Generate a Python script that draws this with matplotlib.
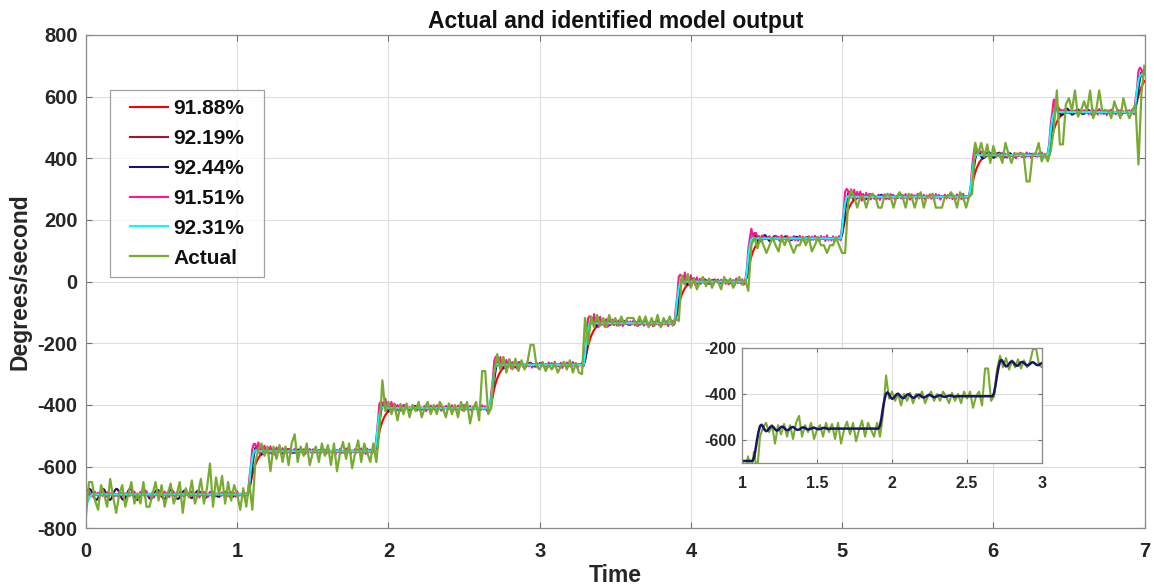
import numpy as np
import matplotlib
matplotlib.use("Agg")
import matplotlib.pyplot as plt
from matplotlib.legend_handler import HandlerLine2D

plt.rcParams['font.family'] = ['Liberation Sans', 'DejaVu Sans']
plt.rcParams['font.weight'] = 'bold'
plt.rcParams['axes.unicode_minus'] = False

# ---------------- data ----------------
dt_actual = 0.02
# measured (Actual) output: per-segment level and sample deviations
actual_levels = [-690, -555, -410, -275, -118, 0, 118, 275, 415, 555]
actual_dev = [
    [-70, 40, 40, -20, -50, 30, 0, -40, 50, -10,
     -60, 0, 30, -40, 0, 40, -30, 0, -30, 40,
     -40, -40, 0, 40, -20, 30, -40, 0, 35, -30,
     0, 40, -60, 20, -10, 45, -30, 0, 50, -30,
     20, 100, -40, 55, 0, 60, -30, 40, -20, 30,
     0, -50, 20, -40, 40, -50],
    [-30, 10, 30, -10, 20, -60, 20, -20, 25, -30,
     20, -40, 30, 60, -30, 20, -10, 30, -40, 0,
     20, -30, 30, -10, 25, -40, 30, -60, 0, 35,
     -20, 30, -50, 0, 40, -30, 30, 0, -30, 30,
     -30, 70],
    [90, -10, 20, -20, 10, -40, 10, -20, 15, -30,
     10, -10, 20, -30, 0, 20, -20, 10, -20, 20,
     0, -30, 15, -20, 10, -30, 20, -10, 20, -50,
     0, 20, -40, 120, 120, -20, 0],
    [-20, 40, -10, 30, -20, 20, -10, 25, -15, 20,
     -10, 15, 70, 70, 0, -10, 10, -15, 5, -10,
     10, -20, 0, 15, -10, 20, -20, 10, -20, -25],
    [0, -85, 5, -30, 10, -25, 0, -30, 10, -20,
     0, -25, 5, -20, 0, 0, 0, -25, 5, -20,
     5, -30, 0, -25, 10, -30, 0, -20, 5, -25,
     0, -10],
    [20, -10, 25, -20, 10, -25, 0, 15, -15, 10,
     -20, 5, 0, -25, 15, -5, 10, -20, 0, 15,
     -10, 5, -30],
    [0, 25, -10, 25, 0, -25, 0, 25, 0, -20,
     25, 0, 25, 0, -25, 0, 0, 25, 0, 25,
     -20, 0, 25, 0, 0, -25, 0, 0, 25, 0,
     -25, -25],
    [-20, 20, 0, -35, 0, 0, -35, 0, 10, 0,
     -35, -35, 0, 10, 0, -35, 0, 15, 0, -35,
     10, 0, -35, 0, 15, -35, 0, 0, 10, -35,
     -35, -35, 0, 0, 15, 0, -35, 15, 0, -35,
     0, 10],
    [35, 0, 35, -10, 30, -30, 25, -10, 0, -30,
     35, 0, -30, 0, 0, 0, 0, -90, -90, 0,
     0, 35, -25, 0, -25, 10],
    [-60, 65, -110, -110, 20, 40, 0, 65, -20, 0,
     30, 0, 65, -25, 0, 65, 0, 0, 0, -25,
     30, 0, -25, 40, 0, -25, 0, 20, -175, 60,
     145],
]

# identified model outputs: commanded staircase + each model's step response
dt_model = 0.01
model_levels = [-690, -550, -410, -270, -135, 0, 140, 275, 410, 550, 670]
model_step_times = [1.08, 1.92, 2.68, 3.30, 3.90, 4.37, 5.00, 5.85, 6.37, 6.94]

labels = ['91.88%', '92.19%', '92.44%', '91.51%', '92.31%']
colors = ['#FF0000', '#A2142F', '#1B1464', '#FF1493', '#00FFFF']
shape_red = [0.10, 0.28, 0.45, 0.58, 0.69, 0.77, 0.84, 0.89, 0.93, 0.955,
             0.97, 0.98, 0.99, 1.0]
shape_darkred = [0.20, 0.50, 0.78, 0.95, 1.04, 1.06, 1.03, 0.99, 0.98, 1.0]
shape_navy = [0.10, 0.35, 0.65, 0.90, 1.08, 1.12, 1.06, 0.97, 0.92, 0.94,
              1.00, 1.06, 1.08, 1.04, 0.98, 0.94, 0.95, 1.00, 1.05, 1.06,
              1.03, 0.98, 0.95, 0.96, 1.00, 1.04, 1.05, 1.02, 0.98, 0.96,
              0.97, 1.00, 1.03, 1.04, 1.02, 0.99, 0.97, 0.98, 1.00, 1.02,
              1.03, 1.01, 0.99, 0.98, 0.99, 1.00, 1.02, 1.02, 1.01, 0.99,
              0.99, 1.0]
shape_pink = [0.30, 0.70, 1.05, 1.22, 1.10, 1.04, 1.16, 1.00, 1.12, 0.97,
              1.08, 1.00, 1.06, 0.96, 1.05, 0.99, 1.04, 0.98, 1.03, 1.0]
shape_cyan = [0.22, 0.58, 0.85, 0.98, 1.02, 1.01, 1.0]
shapes = [shape_red, shape_darkred, shape_navy, shape_pink, shape_cyan]

# early oscillation of the 92.44% model during the first second
navy_start = [0, 12, 18, 16, 6, -6, -16, -18, -12,
              0, 12, 18, 16, 6, -6, -16, -18, -12,
              0, 12, 18, 16, 6, -6, -16, -18, -12,
              0, 12, 18, 16, 6, -6, -16, -18, -12,
              0, 10, 15, 13, 5, -5, -13, -15, -10,
              0, 10, 15, 13, 5, -5, -13, -15, -10,
              0, 10, 15, 13, 5, -5, -13, -15, -10,
              0, 8, 12, 10, 4, -4, -10, -12, -8,
              0, 8, 12, 10, 4, -4, -10, -12, -8,
              0, 5, 8, 7, 3, -3, -7, -8, -5,
              0, 5, 8, 7, 3, -3, -7, -8, -5]
pink_jitter = [6, -4, 9, -7, 3, -9, 8, -2, 5, -8, 10, -5, 2, -6, 7,
               -10, 4, -3, 8, -6, 1, -7, 9, -4, 6, -9, 3, -2, 7, -5]
cyan_start = [-10, -25, -15, -5, 0]

# ---------------- build series ----------------
actual = np.concatenate([lvl + np.array(d, float) for lvl, d in zip(actual_levels, actual_dev)])
t_actual = np.arange(len(actual)) * dt_actual

n_model = int(round(7.0 / dt_model)) + 1
t_model = np.arange(n_model) * dt_model


def model_output(shape):
    y = np.full(n_model, float(model_levels[0]))
    shp = np.array(shape, float)
    for k, ts in enumerate(model_step_times):
        d = model_levels[k + 1] - model_levels[k]
        n0 = int(round(ts / dt_model))
        resp = np.ones(n_model - n0)
        m = min(len(shp), len(resp))
        resp[:m] = shp[:m]
        y[n0:] += d * resp
    return y


models = [model_output(s) for s in shapes]
models[2][:len(navy_start)] += np.array(navy_start, float)
models[3] += np.resize(np.array(pink_jitter, float), n_model)
models[4][:len(cyan_start)] += np.array(cyan_start, float)


class ShortLine(HandlerLine2D):
    """legend line drawn over the right part of the handle box (MATLAB look)"""
    def create_artists(self, legend, orig_handle, xdescent, ydescent,
                       width, height, fontsize, trans):
        arts = super().create_artists(legend, orig_handle, xdescent, ydescent,
                                      width, height, fontsize, trans)
        line = arts[0]
        x = np.asarray(line.get_xdata(), float)
        yv = np.asarray(line.get_ydata(), float)
        x0, x1 = x.min(), x.max()
        newx = np.linspace(x0 + 0.22 * (x1 - x0), x1, max(len(x), 2))
        newy = np.full(len(newx), yv.flat[0] if yv.size else 0.0)
        line.set_data(newx, newy)
        return arts


# ---------------- plot ----------------
fig = plt.figure(figsize=(11.54, 5.86), dpi=100)
ax = fig.add_axes([0.0745, 0.0985, 0.9173, 0.8418])

for y, c, lab in zip(models, colors, labels):
    ax.plot(t_model, y, color=c, lw=1.5, label=lab)
ax.plot(t_actual, actual, color='#77AC30', lw=1.6, label='Actual')

ax.set_xlim(0, 7)
ax.set_ylim(-800, 800)
ax.set_xticks(range(0, 8))
ax.set_yticks(range(-800, 801, 200))
ax.grid(True, color='#DEDEDE', lw=0.8)
ax.set_axisbelow(True)
ax.tick_params(direction='in', length=4, top=True, right=True,
               labelsize=14.5, colors='#707070', labelcolor='#262626')
ax.tick_params(axis='x', pad=10)
ax.tick_params(axis='y', pad=6)
for sp in ax.spines.values():
    sp.set_color('#8A8A8A')
    sp.set_linewidth(0.9)
for lab in ax.get_xticklabels() + ax.get_yticklabels():
    lab.set_fontweight('bold')
ax.set_title('Actual and identified model output', fontsize=16.5,
             fontweight='bold', color='#111111', pad=5)
ax.set_xlabel('Time', fontsize=16.5, fontweight='bold', color='#262626', labelpad=2)
ax.set_ylabel('Degrees/second', fontsize=16.5, fontweight='bold', color='#262626', labelpad=4)

leg = ax.legend(loc='upper left', bbox_to_anchor=(0.0227, 0.5054, 0.1455, 0.3831),
                mode='expand', borderaxespad=0,
                fontsize=15, frameon=True, fancybox=False, edgecolor='#8A8A8A',
                handlelength=2.34, handletextpad=0.24, labelspacing=0.52,
                borderpad=0.45, handler_map={matplotlib.lines.Line2D: ShortLine()})
leg.get_frame().set_linewidth(0.9)
for txt in leg.get_texts():
    txt.set_fontweight('bold')
    txt.set_color('#111111')

# inset: zoom on 1..3 s
axi = fig.add_axes([0.643, 0.2094, 0.260, 0.1973])
axi.plot(t_actual, actual, color='#77AC30', lw=1.5)
axi.plot(t_model, models[2], color='#1B1464', lw=1.8)
axi.set_xlim(1, 3)
axi.set_ylim(-700, -200)
axi.set_xticks([1, 1.5, 2, 2.5, 3])
axi.set_xticklabels(['1', '1.5', '2', '2.5', '3'])
axi.set_yticks([-600, -400, -200])
axi.grid(True, color='#DEDEDE', lw=0.8)
axi.set_axisbelow(True)
axi.tick_params(direction='in', length=3, top=True, right=True,
                labelsize=11.5, colors='#707070', labelcolor='#262626')
axi.tick_params(axis='x', pad=9)
axi.tick_params(axis='y', pad=4)
for sp in axi.spines.values():
    sp.set_color('#8A8A8A')
    sp.set_linewidth(0.9)
for lab in axi.get_xticklabels() + axi.get_yticklabels():
    lab.set_fontweight('bold')

fig.savefig('out.png', dpi=100)
